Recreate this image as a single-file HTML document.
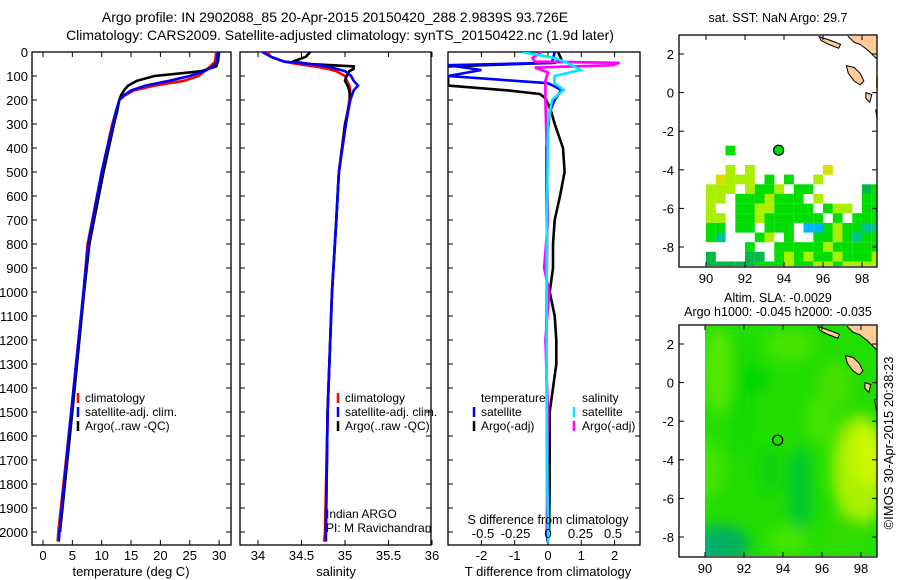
<!DOCTYPE html>
<html><head><meta charset="utf-8"><style>
html,body{margin:0;padding:0;background:#fff;}
svg{display:block;font-family:"Liberation Sans",sans-serif;}
</style></head><body>
<svg id="fig" width="900" height="580" viewBox="0 0 900 580">
<defs>
<filter id="blur" x="-50%" y="-50%" width="200%" height="200%"><feGaussianBlur stdDeviation="7"/></filter>
<clipPath id="clipMap2"><rect x="705" y="326" width="172" height="230"/></clipPath>
<clipPath id="clipMap1"><rect x="680" y="36" width="197" height="230"/></clipPath>
<clipPath id="clipP3"><rect x="448" y="52" width="192" height="493"/></clipPath>
</defs>
<text x="335" y="22" font-size="14" text-anchor="middle">Argo profile: IN 2902088_85 20-Apr-2015 20150420_288 2.9839S 93.726E</text>
<text x="340" y="40" font-size="14" text-anchor="middle">Climatology: CARS2009. Satellite-adjusted climatology: synTS_20150422.nc (1.9d later)</text>
<g id="g"></g>
</svg>
<script>
// ---------- data ----------
const tDepth = [0,40,60,80,100,120,140,160,180,200,250,300,500,800,1000,1500,2000,2040];
const tClim  = [29.5,29.3,28.5,27.5,26.5,24,19,15.5,14,13,12.4,11.8,10.0,7.6,6.9,4.8,2.6,2.5];
const tSat   = [29.8,29.6,29,27.5,25,21.5,17.5,15,13.8,13,12.4,11.9,10.0,7.7,6.9,4.8,2.8,2.7];
const tArgoDepth = [0,40,60,80,100,120,140,160,180,200,250,300,500,800,1000,1500,2000];
const tArgo  = [30,29.8,29.5,27,19,16,14.5,13.8,13.3,13,12.6,12.1,10.3,7.9,7,5,2.9];

const sDepth = [0,20,40,50,60,70,80,100,120,140,160,200,300,500,700,1000,1500,2000,2040];
const sClim  = [34.1,34.15,34.3,34.45,34.65,34.8,34.9,35.0,35.02,35.05,35.06,35.05,35.01,34.93,34.9,34.85,34.8,34.77,34.76];
const sSat   = [34.05,34.15,34.3,34.6,34.8,34.9,35.0,35.07,35.1,35.15,35.1,35.06,35.01,34.93,34.9,34.85,34.8,34.78,34.78];
const sArgoDepth = [0,20,40,50,60,70,80,100,120,140,160,200,300,500,700,1000,1500,2000];
const sArgo  = [34.6,34.55,34.4,34.6,35.1,35.1,35.05,35.02,35.0,35.03,35.05,35.06,35.0,34.93,34.9,34.85,34.8,34.78];

const dtArgoDepth = [0,30,45,60,80,100,120,140,160,175,190,215,250,300,400,500,600,700,800,900,1000,1100,1200,1300,1400,1500,1600,1800,2000];
const dtArgo = [0.3,0.4,0.2,-3,-3.2,-3,-3,-3,-1.2,-0.25,-0.1,0,0.1,0.2,0.45,0.5,0.36,0.2,0.15,0.15,0.05,0.2,0.25,0.25,0.15,0.05,0.05,0.05,0.03];
const dtSatDepth = [0,30,45,55,75,100,115,130,158,200,250,400,800,1200,1600,2000,2040];
const dtSat = [0.2,0.15,0.1,-3,-2,-3,-1.5,0,0.4,0.2,0.05,-0.05,-0.03,-0.05,-0.03,-0.02,-0.02];
const dsArgoDepth = [0,25,40,45,55,65,85,120,200,400,700,900,1000,1200,1500,2000];
const dsArgo = [-0.05,-0.12,-0.1,0.55,0.5,-0.1,0,-0.02,-0.02,-0.01,0.0,-0.03,0.01,-0.02,0.0,-0.01];
const dsSatDepth = [0,25,45,75,100,130,158,200,300,800,1500,2000,2040];
const dsSat = [-0.2,0.05,0.15,0.25,0.05,0.05,0.12,0.03,0.0,-0.01,-0.01,0.0,0.0];

const depthTicks = [0,100,200,300,400,500,600,700,800,900,1000,1100,1200,1300,1400,1500,1600,1700,1800,1900,2000];
const tTicks = [0,5,10,15,20,25,30];
const sTicks = [34,34.5,35,35.5,36];
const sTickLabels = ["34","34.5","35","35.5","36"];
const dtTicks = [-2,-1,0,1,2];
const dsTicks = [-0.5,-0.25,0,0.25,0.5];
const dsTickLabels = ["-0.5","-0.25","0","0.25","0.5"];
const latTicks = [2,0,-2,-4,-6,-8];
const lonTicks = [90,92,94,96,98];
const argoLon = 93.726, argoLat = -2.9839;

const sstRows = [
"..g...............",
"..................",
"..y.y.......Y.....",
".Yyyy.g.g..y......",
"yyy.yggy.gg.....dg",
"yy.gggyggg.y....gg",
"y..ggyygggg.gyy.gg",
"yy.ggygggggg.g.ggg",
"gg.gg.ggg.ccgyggtt",
"gt...gy.g..ggygtgg",
"....g..gggggyggggg",
"d...dd.gygyggygggy",
"dddddgggyggyygyyyy"];
const sstColors = {g:"#00dd00",d:"#00b84a",y:"#aaee00",Y:"#dddd00",c:"#00b4ff",t:"#00c490"};

// ---------- helpers ----------
const NS="http://www.w3.org/2000/svg";
const G=document.getElementById('g');
function el(tag,attrs,parent){const e=document.createElementNS(NS,tag);for(const k in attrs)e.setAttribute(k,attrs[k]);(parent||G).appendChild(e);return e;}
function txt(x,y,s,size,anchor,parent){const t=el('text',{x:x,y:y,'font-size':size||13,'text-anchor':anchor||'middle'},parent);t.textContent=s;return t;}
const yD = d => 52 + d*0.24;
const PB = 545;

function panel(x0,x1,name){
  const r=el('rect',{x:x0,y:52,width:x1-x0,height:PB-52,fill:'none',stroke:'#000','stroke-width':1.3});
  
  
  depthTicks.forEach(d=>{el('line',{x1:x0,x2:x0+5,y1:yD(d),y2:yD(d),stroke:'#000'});el('line',{x1:x1-5,x2:x1,y1:yD(d),y2:yD(d),stroke:'#000'});});
}
function series(xs,ds,xf,color,name,clip){
  const pts=xs.map((v,i)=>xf(v).toFixed(1)+','+yD(ds[i]).toFixed(1)).join(' ');
  const p=el('polyline',{points:pts,fill:'none',stroke:color,'stroke-width':2.6,'stroke-linejoin':'miter'});
  if(clip)p.setAttribute('clip-path','url(#'+clip+')');
  
  
}
function xticks(ticks,labels,xf,x0,x1,ly){
  ticks.forEach((t,i)=>{const x=xf(t);
    el('line',{x1:x,x2:x,y1:PB-5,y2:PB,stroke:'#000'});el('line',{x1:x,x2:x,y1:52,y2:57,stroke:'#000'});
    if(ly){const l=txt(x,ly,labels[i],13);}
  });
}
function legendBar(x,y,color){el('line',{x1:x,x2:x,y1:y-10,y2:y,stroke:color,'stroke-width':2.5});}

// ---------- panel 1: temperature ----------
const xT = v => 43 + v*5.87;
panel(32,231,'temperature-panel-frame');
depthTicks.forEach(d=>{const l=txt(28,yD(d)+5,String(d),13,'end');});
xticks(tTicks,tTicks.map(String),xT,32,231,560);
series(tClim,tDepth,xT,'#ff0000','temp-climatology-line');
series(tArgo,tArgoDepth,xT,'#000000','temp-argo-line');
series(tSat,tDepth,xT,'#0000ff','temp-satellite-line');
txt(131,576,'temperature (deg C)',13);
legendBar(78,403,'#ff0000');txt(85,402,'climatology',12,'start');
legendBar(78,417,'#0000ff');txt(85,416,'satellite-adj. clim.',12,'start');
legendBar(78,431,'#000');txt(85,430,'Argo(..raw -QC)',12,'start');

// ---------- panel 2: salinity ----------
const xS = v => 258 + (v-34)*87;
panel(240,431,'salinity-panel-frame');
xticks(sTicks,sTickLabels,xS,240,431,560);
series(sClim,sDepth,xS,'#ff0000','sal-climatology-line');
series(sArgo,sArgoDepth,xS,'#000000','sal-argo-line');
series(sSat,sDepth,xS,'#0000ff','sal-satellite-line');
txt(336,576,'salinity',13);
legendBar(338,403,'#ff0000');txt(345,402,'climatology',12,'start');
legendBar(338,417,'#0000ff');txt(345,416,'satellite-adj. clim.',12,'start');
legendBar(338,431,'#000');txt(345,430,'Argo(..raw -QC)',12,'start');
txt(326,518,'Indian ARGO',12,'start');
txt(326,532,'PI: M Ravichandran',12,'start');

// ---------- panel 3: differences ----------
const xDT = v => 548 + v*33.3;
const xDS = v => 548 + v*130;
panel(448,640,'difference-panel-frame');
xticks(dtTicks,dtTicks.map(String),xDT,448,640,560);
series(dtArgo,dtArgoDepth,xDT,'#000000','tdiff-argo-line','clipP3');
series(dtSat,dtSatDepth,xDT,'#0000ff','tdiff-satellite-line','clipP3');
series(dsArgo,dsArgoDepth,xDS,'#ff00ff','sdiff-argo-line','clipP3');
series(dsSat,dsSatDepth,xDS,'#00e8ff','sdiff-satellite-line','clipP3');
dsTicks.forEach((t,i)=>{txt(xDS(t),538,dsTickLabels[i],13);});
txt(548,524,'S difference from climatology',12.5);
txt(548,576,'T difference from climatology',13);
txt(481,402,'temperature',12,'start');
legendBar(474,417,'#0000ff');txt(481,416,'satellite',12,'start');
legendBar(474,431,'#000');txt(481,430,'Argo(-adj)',12,'start');
txt(582,402,'salinity',12,'start');
legendBar(574,417,'#00e8ff');txt(582,416,'satellite',12,'start');
legendBar(574,431,'#ff00ff');txt(582,430,'Argo(-adj)',12,'start');

// ---------- maps ----------
function mapAxes(top,bottom,lat2y,lon90x,label){
  const r=el('rect',{x:679,y:top,width:198,height:bottom-top,fill:'none',stroke:'#000','stroke-width':1.3});
  
  
  latTicks.forEach(l=>{const y=lat2y+(2-l)*19.3;
    el('line',{x1:679,x2:684,y1:y,y2:y,stroke:'#000'});el('line',{x1:872,x2:877,y1:y,y2:y,stroke:'#000'});
    txt(674,y+5,String(l),13,'end');});
  lonTicks.forEach(l=>{const x=lon90x+(l-90)*19.5;
    el('line',{x1:x,x2:x,y1:top,y2:top+5,stroke:'#000'});el('line',{x1:x,x2:x,y1:bottom-5,y2:bottom,stroke:'#000'});
    txt(x,bottom+16,String(l),13);});
}
function land(lat2y,lon90x,clip){
  const P=(lon,lat)=>(lon90x+(lon-90)*19.5).toFixed(1)+','+(lat2y+(2-lat)*19.3).toFixed(1);
  const polys=[
    [[97.2,3.2],[99,3.2],[99,1.5],[98.7,1.8],[98.3,2.2],[97.9,2.5],[97.6,2.6],[97.3,2.9]],
    [[95.8,2.9],[96.4,2.7],[96.9,2.5],[96.8,2.3],[96.3,2.5],[95.9,2.7]],
    [[97.2,1.4],[97.6,1.3],[97.9,1.0],[98.1,0.6],[97.9,0.4],[97.6,0.6],[97.3,1.0]],
    [[98.7,-0.9],[99,-0.8],[99,-1.7],[98.8,-1.5]],
    [[98.2,0.0],[98.5,-0.1],[98.4,-0.5],[98.2,-0.3]],
    [[99,1.2],[98.85,0.9],[98.85,0.2],[99,0]]];
  polys.forEach(p=>{const e=el('polygon',{points:p.map(q=>P(q[0],q[1])).join(' '),fill:'#ffcc99',stroke:'#000','stroke-width':1,'clip-path':'url(#'+clip+')'});
    });
}
txt(778,22,'sat. SST: NaN Argo: 29.7',12.5);
const m1lat=54, m1lon=706;
sstRows.forEach((row,r)=>{[...row].forEach((ch,c)=>{if(ch==='.')return;
  const lon=90+c*0.5, latTop=-2.75-r*0.5;
  const x=m1lon+(lon-90)*19.5, y=m1lat+(2-latTop)*19.3;
  const e=el('rect',{x:x.toFixed(1),y:y.toFixed(1),width:9.8,height:9.7,fill:sstColors[ch],'clip-path':'url(#clipMap1)'});
  });});
land(m1lat,m1lon,'clipMap1');
el('rect',{x:876,y:76,width:2,height:12,fill:'#ff9900'});
const c1=el('circle',{cx:m1lon+(argoLon-90)*19.5,cy:m1lat+(2-argoLat)*19.3,r:5,fill:'#00dd00',stroke:'#000','stroke-width':1.2});

mapAxes(35,267,m1lat,m1lon,'sst-map-frame');

txt(778,302,'Altim. SLA: -0.0029',12.5);
txt(778,316,'Argo h1000: -0.045 h2000: -0.035',12.5);
const m2lat=344, m2lon=705;
const sg=el('g',{'clip-path':'url(#clipMap2)'});
el('rect',{x:705,y:326,width:172,height:230,fill:'#22dd00'},sg);
const bl=el('g',{filter:'url(#blur)'},sg);
[[718,370,14,45,'#55e800'],[790,345,25,18,'#44e400'],[700,470,25,30,'#44e400'],[742,400,8,60,'#10d800'],
 [860,470,28,55,'#aaf000'],[868,455,16,30,'#ccf800'],[835,385,18,25,'#44e000'],[820,420,14,25,'#44e400'],
 [800,490,12,45,'#00c830'],[770,470,12,25,'#10d010'],[720,545,30,20,'#00b060'],[705,556,14,12,'#00b080'],
 [845,535,25,20,'#33dd00'],[755,380,14,12,'#00d400'],[788,540,20,14,'#44e600']
].forEach(a=>el('ellipse',{cx:a[0],cy:a[1],rx:a[2],ry:a[3],fill:a[4]},bl));
land(m2lat,m2lon,'clipMap2');
const c2=el('circle',{cx:m2lon+(argoLon-90)*19.5,cy:m2lat+(2-argoLat)*19.3,r:5,fill:'none',stroke:'#000','stroke-width':1.2});

mapAxes(325,557,m2lat,m2lon,'sla-map-frame');

const cr=txt(0,0,'©IMOS 30-Apr-2015 20:38:23',13);
cr.setAttribute('transform','translate(893,443) rotate(-90)');


</script>
</body></html>
